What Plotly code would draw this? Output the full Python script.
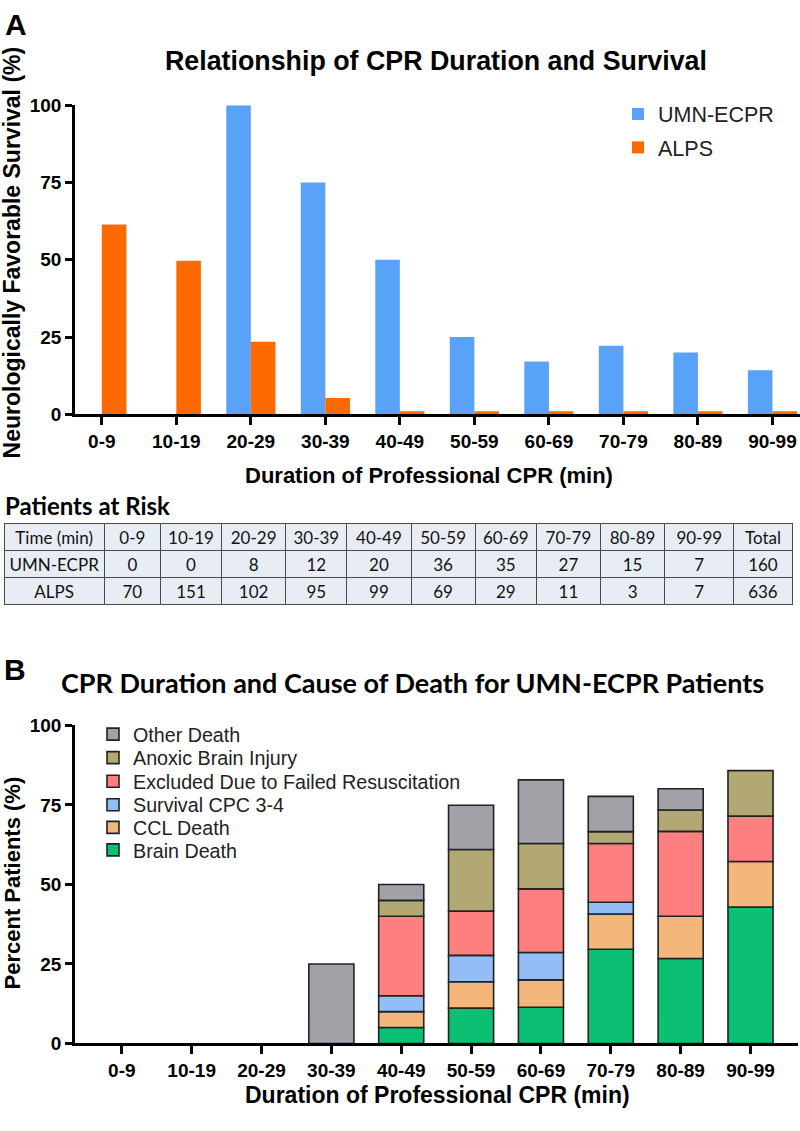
import numpy as np
import plotly.graph_objects as go

W, H = 800, 1131

# ---------------- data ----------------
categories = ["0-9", "10-19", "20-29", "30-39", "40-49", "50-59", "60-69", "70-79", "80-89", "90-99"]

umn_survival = [0, 0, 100, 75, 50, 25, 17.1, 22.2, 20, 14.3]
alps_survival = [61.4, 49.7, 23.5, 5.3, 1, 1, 1, 1, 1, 1]

table_header = ["Time (min)", "0-9", "10-19", "20-29", "30-39", "40-49", "50-59",
                "60-69", "70-79", "80-89", "90-99", "Total"]
table_rows = ["UMN-ECPR", "ALPS"]
umn_at_risk = [0, 0, 8, 12, 20, 36, 35, 27, 15, 7, 160]
alps_at_risk = [70, 151, 102, 95, 99, 69, 29, 11, 3, 7, 636]

brain_death = [0, 0, 0, 0, 5, 11.1, 11.4, 29.6, 26.7, 42.9]
ccl_death = [0, 0, 0, 0, 5, 8.3, 8.6, 11.1, 13.3, 14.3]
survival_cpc34 = [0, 0, 0, 0, 5, 8.3, 8.6, 3.7, 0, 0]
excluded_failed = [0, 0, 0, 0, 25, 13.9, 20, 18.5, 26.7, 14.3]
anoxic_brain = [0, 0, 0, 0, 5, 19.4, 14.3, 3.7, 6.7, 14.3]
other_death = [0, 0, 0, 25, 5, 13.9, 20, 11.1, 6.7, 0]

# ---------------- helpers ----------------
def fx(p):
    return p / W

def fy(p):
    return 1 - p / H

ARIAL = "Liberation Sans, Arial, sans-serif"
CAL = "Lato, Carlito, sans-serif"

fig = go.Figure()
legends = {}

# Panel A bars
panel_a = [("UMN-ECPR", umn_survival, "#58a2f7", -0.33, 106),
           ("ALPS", alps_survival, "#ff6a00", 0.0, 140)]
for i, (name, vals, col, off, ly) in enumerate(panel_a):
    lg = "legend" if i == 0 else f"legend{i + 1}"
    fig.add_trace(go.Bar(x=categories, y=vals, name=name,
                         marker=dict(color=col, line=dict(width=0)),
                         width=0.33, offset=off, xaxis="x", yaxis="y", legend=lg))
    legends[lg] = dict(x=fx(618), y=fy(ly), xanchor="left", yanchor="middle",
                       font=dict(family=ARIAL, size=21.5, color="#222"),
                       bgcolor="rgba(0,0,0,0)", borderwidth=0)

# Panel B stacked bars (bases computed from the series)
stack_series = [
    ("Brain Death", brain_death, "#0bbf73"),
    ("CCL Death", ccl_death, "#f3b77c"),
    ("Survival CPC 3-4", survival_cpc34, "#92bef5"),
    ("Excluded Due to Failed Resuscitation", excluded_failed, "#fe7f7f"),
    ("Anoxic Brain Injury", anoxic_brain, "#b2a874"),
    ("Other Death", other_death, "#a2a1a8"),
]
legend_b_y = [856, 833, 810, 786, 762, 738]
base = np.zeros(len(categories))
for j, (name, vals, col) in enumerate(stack_series):
    v = np.array(vals, dtype=float)
    lg = f"legend{j + 3}"
    fig.add_trace(go.Bar(x=categories, y=[val if val > 0 else None for val in v],
                         base=base.copy(), name=name,
                         marker=dict(color=col, line=dict(color="#222222", width=1.6)),
                         width=0.645, xaxis="x2", yaxis="y2", legend=lg))
    legends[lg] = dict(x=fx(93), y=fy(legend_b_y[j]), xanchor="left", yanchor="middle",
                       font=dict(family=ARIAL, size=19.7, color="#222"),
                       bgcolor="rgba(0,0,0,0)", borderwidth=0)
    base = base + v

# Table
col_values = [table_rows] + [[u, a] for u, a in zip(umn_at_risk, alps_at_risk)]
fig.add_trace(go.Table(
    domain=dict(x=[fx(4), fx(792)], y=[fy(640), fy(523)]),
    columnwidth=[100, 56, 61, 64, 61, 64, 64, 61, 64, 64, 69, 58],
    header=dict(values=table_header, fill_color="#e8edf5",
                line=dict(color="#4a4a4a", width=1), align="center",
                font=dict(family=CAL, size=17, color="#111"), height=27),
    cells=dict(values=col_values, fill_color="#e8edf5",
               line=dict(color="#4a4a4a", width=1), align="center",
               font=dict(family=CAL, size=17, color="#111"), height=27),
))

axis_common = dict(showline=True, linecolor="black", linewidth=2.5, ticks="outside",
                   tickcolor="black", tickwidth=2.5, showgrid=False, zeroline=False,
                   tickfont=dict(family=ARIAL, size=19, color="black", weight="bold"))

fig.update_layout(
    width=W, height=H, margin=dict(l=0, r=0, t=0, b=0),
    plot_bgcolor="white", paper_bgcolor="white",
    barmode="overlay", showlegend=True,
    xaxis=dict(domain=[fx(75), 1.0], range=[-0.36, 9.37], anchor="y", ticklen=8, **axis_common),
    yaxis=dict(domain=[fy(412), fy(97)], range=[0, 100], anchor="x", tickvals=[0, 25, 50, 75, 100],
               ticklen=7, **axis_common),
    xaxis2=dict(domain=[fx(75), fx(798)], range=[-0.67, 9.68], anchor="y2", ticklen=8, **axis_common),
    yaxis2=dict(domain=[fy(1053), fy(729)], range=[0, 100], anchor="x2", tickvals=[0, 25, 50, 75, 100],
                ticklen=7, **axis_common),
    **legends,
)

annotations = [
    dict(text="<b>A</b>", x=fx(16), y=fy(15), font=dict(family=ARIAL, size=30, color="black")),
    dict(text="<b>Relationship of CPR Duration and Survival</b>", x=fx(436), y=fy(52),
         font=dict(family=ARIAL, size=26.8, color="black")),
    dict(text="<b>Neurologically Favorable Survival (%)</b>", x=fx(12), y=fy(247), textangle=-90,
         font=dict(family=ARIAL, size=23, color="black")),
    dict(text="<b>Duration of Professional CPR (min)</b>", x=fx(429), y=fy(474),
         font=dict(family=ARIAL, size=22, color="black")),
    dict(text="<b>Patients at Risk</b>", x=fx(3), y=fy(505), xanchor="left",
         font=dict(family=CAL, size=24, color="black")),
    dict(text="<b>B</b>", x=fx(15), y=fy(672), font=dict(family=ARIAL, size=30, color="black")),
    dict(text="<b>CPR Duration and Cause of Death for UMN-ECPR Patients</b>", x=fx(412), y=fy(685),
         font=dict(family=CAL, size=27, color="black")),
    dict(text="<b>Percent Patients (%)</b>", x=fx(12), y=fy(890), textangle=-90,
         font=dict(family=ARIAL, size=22, color="black")),
    dict(text="<b>Duration of Professional CPR (min)</b>", x=fx(437), y=fy(1106),
         font=dict(family=ARIAL, size=23, color="black")),
]
for a in annotations:
    a.update(xref="paper", yref="paper", showarrow=False)
    a.setdefault("xanchor", "center")
    a.setdefault("yanchor", "middle")
fig.update_layout(annotations=annotations)

fig.write_html("out.html", config={"displayModeBar": False},
               post_script="document.body.style.margin='0';document.body.style.overflow='hidden';")
